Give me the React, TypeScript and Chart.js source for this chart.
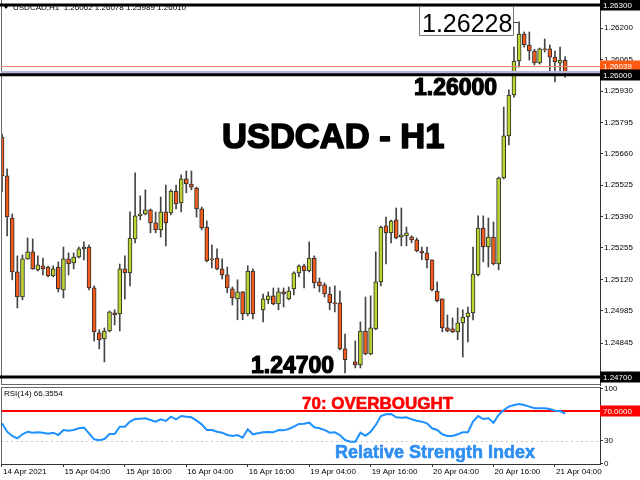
import React, { useEffect, useRef } from 'react';
import { Chart, registerables } from 'chart.js';

Chart.register(...registerables);

const FONT = '"Liberation Sans", Arial, sans-serif';

// ---- data ----
const SYMBOL_HEADER = 'USDCAD,H1  1.26062 1.26078 1.25989 1.26010';
const TIME_TICK_BARS = [0, 12, 24, 36, 48, 60, 72, 84, 96, 108];
const TIME_LABELS = ['14 Apr 2021', '15 Apr 04:00', '15 Apr 16:00', '16 Apr 04:00', '16 Apr 16:00', '19 Apr 04:00', '19 Apr 16:00', '20 Apr 04:00', '20 Apr 16:00', '21 Apr 04:00'];

const OPEN = [
  1.25732, 1.25565, 1.25384, 1.25152, 1.25044, 1.25208, 1.25238, 1.25161, 1.25178, 1.25173,
  1.25135, 1.25173, 1.25075, 1.25208, 1.25191, 1.25216, 1.25251, 1.25259, 1.25083, 1.24890,
  1.24864, 1.24898, 1.24976, 1.24971, 1.25165, 1.25148, 1.25294, 1.25393, 1.25401, 1.25419,
  1.25363, 1.25333, 1.25410, 1.25406, 1.25500, 1.25449, 1.25552, 1.25530, 1.25513, 1.25423,
  1.25345, 1.25208, 1.25212, 1.25165, 1.25139, 1.25079, 1.25036, 1.25066, 1.24971, 1.25156,
  null, 1.24989, 1.25032, 1.25049, 1.25014, 1.25066, 1.25036, 1.25079, 1.25148, 1.25178,
  1.25156, 1.25212, 1.25109, 1.25096, 1.25057, 1.25019, 1.25019, 1.24821, null, 1.24765,
  1.24752, 1.24898, 1.24799, 1.24907, 1.25109, 1.25350, 1.25320, 1.25376, 1.25302, 1.25307,
  1.25303, 1.25290, 1.25242, 1.25234, 1.25204, 1.25070, 1.25036, 1.24911, 1.24907, 1.24894,
  1.24933, 1.24958, 1.24976, 1.25139, 1.25341, 1.25259, 1.25302, 1.25186, 1.25556, 1.25737,
  1.25913, 1.26059, 1.26175, 1.26128, 1.26102, 1.26051, 1.26111, 1.26111, 1.26076, 1.26050,
  1.26062,
];
const HIGH = [
  1.25745, 1.25595, 1.25401, 1.25221, 1.25225, 1.25298, 1.25294, 1.25221, 1.25212, 1.25177,
  1.25178, 1.25195, 1.25259, 1.25234, 1.25234, 1.25259, 1.25281, 1.25268, 1.25092, 1.24903,
  1.24911, 1.24984, 1.24989, 1.25186, 1.25221, 1.25410, 1.25578, 1.25479, 1.25505, 1.25423,
  1.25410, 1.25474, 1.25526, 1.25505, 1.25526, 1.25569, 1.25586, 1.25586, 1.25517, 1.25431,
  1.25371, 1.25268, 1.25251, 1.25208, 1.25173, 1.25087, 1.25118, 1.25068, 1.25178, 1.25165,
  null, 1.25057, 1.25066, 1.25083, 1.25083, 1.25083, 1.25087, 1.25152, 1.25182, 1.25186,
  1.25281, 1.25221, 1.25126, 1.25105, 1.25087, 1.25092, 1.25070, 1.24885, null, 1.24855,
  1.24937, 1.25044, 1.25049, 1.25238, 1.25349, 1.25388, 1.25375, 1.25427, 1.25427, 1.25345,
  1.25307, 1.25298, 1.25259, 1.25259, 1.25204, 1.25109, 1.25036, 1.24967, 1.24954, 1.24997,
  1.24989, 1.25001, 1.25259, 1.25393, 1.25393, 1.25384, 1.25367, 1.25560, 1.25861, 1.25935,
  1.26119, 1.26228, 1.26184, 1.26184, 1.26110, 1.26115, 1.26154, 1.26128, 1.26102, 1.26119,
  1.26078,
];
const LOW = [
  1.25496, 1.25307, 1.25118, 1.24997, 1.25032, 1.25206, 1.25163, 1.25156, 1.25139, 1.25130,
  1.25131, 1.25066, 1.25040, 1.25139, 1.25165, 1.25212, 1.25204, 1.25075, 1.24855, 1.24821,
  1.24765, 1.24894, 1.24924, 1.24898, 1.25036, 1.25092, 1.25277, 1.25376, 1.25397, 1.25320,
  1.25320, 1.25302, 1.25264, 1.25397, 1.25423, 1.25410, 1.25492, 1.25505, 1.25388, 1.25333,
  1.25195, 1.25169, 1.25161, 1.25122, 1.25062, 1.25010, 1.24946, 1.24946, 1.24963, 1.24950,
  null, 1.24937, 1.25015, 1.25010, 1.24989, 1.25001, 1.25032, 1.25053, 1.25130, 1.25083,
  1.25152, 1.25083, 1.25066, 1.25044, 1.24989, 1.24980, 1.24817, 1.24718, null, 1.24739,
  1.24739, 1.24795, 1.24795, 1.24903, 1.25092, 1.25186, 1.25277, 1.25294, 1.25264, 1.25264,
  1.25277, 1.25238, 1.25204, 1.25169, 1.25070, 1.25023, 1.24894, 1.24894, 1.24890, 1.24860,
  1.24786, 1.24851, 1.24946, 1.25135, 1.25195, 1.25173, 1.25182, 1.25161, 1.25552, 1.25698,
  1.25904, 1.26033, 1.26119, 1.26063, 1.26042, 1.26046, 1.26098, 1.26012, 1.25969, 1.26012,
  1.25989,
];
const CLOSE = [
  1.25565, 1.25388, 1.25152, 1.25044, 1.25208, 1.25238, 1.25165, 1.25182, 1.25165, 1.25135,
  1.25165, 1.25079, 1.25208, 1.25186, 1.25216, 1.25251, 1.25259, 1.25083, 1.24894, 1.24860,
  1.24898, 1.24980, 1.24967, 1.25165, 1.25148, 1.25298, 1.25393, 1.25401, 1.25419, 1.25363,
  1.25333, 1.25410, 1.25363, 1.25500, 1.25444, 1.25552, 1.25530, 1.25517, 1.25423, 1.25341,
  1.25199, 1.25204, 1.25165, 1.25139, 1.25083, 1.25040, 1.25066, 1.24971, 1.25156, 1.24971,
  null, 1.25036, 1.25049, 1.25014, 1.25066, 1.25057, 1.25070, 1.25148, 1.25178, 1.25156,
  1.25212, 1.25105, 1.25092, 1.25057, 1.25019, 1.25015, 1.24821, 1.24774, null, 1.24752,
  1.24898, 1.24799, 1.24911, 1.25109, 1.25345, 1.25320, 1.25371, 1.25298, 1.25311, 1.25320,
  1.25290, 1.25242, 1.25234, 1.25204, 1.25075, 1.25027, 1.24911, 1.24898, 1.24894, 1.24933,
  1.24958, 1.24976, 1.25143, 1.25341, 1.25259, 1.25302, 1.25186, 1.25556, 1.25737, 1.25913,
  1.26059, 1.26175, 1.26128, 1.26102, 1.26051, 1.26111, 1.26107, 1.26076, 1.26055, 1.26063,
  1.26010,
];
const RSI = [
  53.6, 42.4, 36.7, 33.6, 38.9, 42.4, 41.1, 41.6, 41.1, 39.8,
  41.1, 38.0, 44.7, 43.8, 44.7, 46.9, 47.8, 40.2, 32.2, 30.9,
  32.7, 39.3, 39.3, 49.1, 49.1, 55.8, 59.3, 59.8, 60.2, 58.0,
  55.8, 58.9, 56.7, 62.4, 58.9, 63.3, 62.4, 61.6, 57.1, 52.2,
  44.7, 44.7, 42.4, 41.1, 38.0, 36.7, 38.0, 34.4, 45.6, 38.9,
  40.2, 41.6, 42.0, 41.6, 44.7, 44.2, 46.0, 49.1, 52.7, 53.1,
  54.4, 48.2, 46.9, 44.7, 41.1, 41.6, 38.0, 31.3, 29.1, 29.1,
  41.1, 37.1, 42.4, 51.3, 63.3, 65.6, 66.0, 61.6, 61.1, 61.6,
  58.9, 57.1, 55.8, 53.6, 46.9, 44.7, 38.9, 36.7, 36.7, 38.9,
  41.6, 41.6, 55.8, 63.3, 59.3, 60.2, 54.4, 64.7, 71.3, 75.8,
  78.0, 79.3, 78.0, 75.8, 73.6, 73.6, 73.6, 72.7, 70.4, 70.0,
  66.36,
];
const RSI_LAST = '66.3554';

const PRICE_TICKS = [1.262, 1.26065, 1.2593, 1.25795, 1.2566, 1.25525, 1.2539, 1.25255, 1.2512, 1.24985, 1.24845, 1.2471];
const LEVELS = [1.263, 1.26, 1.247];
const LEVEL_TEXT = ['', '1.26000', '1.24700'];
const BID_PRICE = 1.26039;
const LAST_PRICE = 1.2601;
const HIGH_MARK_INDEX = 101;
const RSI_TICKS = [0, 30, 70, 100];
const RSI_OVERBOUGHT = 70;
const RSI_OVERSOLD = 30;

// ---- layout constants ----
const X_MIN = -0.195;
const X_MAX = 116.8;
const Y_MIN = 1.2466559;
const Y_MAX = 1.2632151;
const RSI_MIN = -0.667;
const RSI_MAX = 102;

const BULL = '#bed431';
const BEAR = '#f25b1c';

function drawAxisBox(ctx: CanvasRenderingContext2D, y: number, text: string, bg: string) {
  ctx.fillStyle = bg;
  ctx.fillRect(600, Math.round(y) - 5.5, 40, 11);
  ctx.fillStyle = '#fff';
  ctx.font = `8px ${FONT}`;
  ctx.textAlign = 'left';
  ctx.textBaseline = 'middle';
  ctx.fillText(text, 603, Math.round(y) + 0.5);
}

function heavyText(ctx: CanvasRenderingContext2D, text: string, x: number, y: number, color: string, stroke: number) {
  ctx.fillStyle = color;
  ctx.strokeStyle = color;
  ctx.lineWidth = stroke;
  ctx.lineJoin = 'round';
  ctx.strokeText(text, x, y);
  ctx.fillText(text, x, y);
}

export default function App() {
  const mainRef = useRef<HTMLCanvasElement>(null);
  const rsiRef = useRef<HTMLCanvasElement>(null);

  useEffect(() => {
    const bodies: any[] = [];
    const wicks: any[] = [];
    const colors: string[] = [];
    OPEN.forEach((o, i) => {
      if (o == null) return;
      const c = CLOSE[i] as number;
      bodies.push({ x: i, y: [o, c] });
      wicks.push({ x: i, y: [LOW[i], HIGH[i]] });
      colors.push(c > o ? BULL : BEAR);
    });

    const mainDecor = {
      id: 'mainDecor',
      afterDraw(chart: any) {
        const { ctx, chartArea: a, scales } = chart;
        const ys = scales.y;
        const xs = scales.x;
        ctx.save();
        // frame
        ctx.fillStyle = '#666';
        ctx.fillRect(1, 0, 1, a.bottom);
        ctx.fillRect(1, a.bottom - 1, a.right - 1, 1);
        // last price / bid lines
        const yl = ys.getPixelForValue(LAST_PRICE);
        ctx.fillStyle = '#b8b8de';
        ctx.fillRect(a.left, yl - 1.5, a.right - a.left, 3);
        const yb = ys.getPixelForValue(BID_PRICE);
        ctx.fillStyle = '#f08868';
        ctx.fillRect(a.left, Math.round(yb), a.right - a.left, 1);
        // levels
        ctx.fillStyle = '#000';
        LEVELS.forEach((lv) => {
          const p = ys.getPixelForValue(lv);
          ctx.fillRect(0, p - 1.5, a.right, 3);
        });
        // axis boxes
        drawAxisBox(ctx, yb, BID_PRICE.toFixed(5), '#ff5a14');
        LEVELS.forEach((lv) => drawAxisBox(ctx, ys.getPixelForValue(lv), lv.toFixed(5), '#000'));
        // header
        ctx.fillStyle = '#000';
        ctx.beginPath();
        ctx.moveTo(3, 5);
        ctx.lineTo(9, 5);
        ctx.lineTo(6, 9);
        ctx.closePath();
        ctx.fill();
        ctx.font = `8px ${FONT}`;
        ctx.textAlign = 'left';
        ctx.textBaseline = 'middle';
        ctx.fillText(SYMBOL_HEADER, 13, 8);
        // title
        ctx.font = `bold 34.5px ${FONT}`;
        ctx.textBaseline = 'alphabetic';
        heavyText(ctx, 'USDCAD - H1', 222, 148, '#000', 1.6);
        // level labels
        ctx.font = `bold 23px ${FONT}`;
        heavyText(ctx, LEVEL_TEXT[1], 414, 95, '#000', 1.2);
        heavyText(ctx, LEVEL_TEXT[2], 251, 373, '#000', 1.2);
        // high marker
        const hy = ys.getPixelForValue(HIGH[HIGH_MARK_INDEX]);
        const hx = xs.getPixelForValue(HIGH_MARK_INDEX);
        ctx.fillStyle = '#fff';
        ctx.fillRect(419.5, 6.5, 94, 29);
        ctx.strokeStyle = '#777';
        ctx.lineWidth = 1;
        ctx.strokeRect(419.5, 6.5, 94, 29);
        ctx.beginPath();
        ctx.moveTo(513.5, Math.round(hy) + 0.5);
        ctx.lineTo(hx - 1, Math.round(hy) + 0.5);
        ctx.strokeStyle = '#444';
        ctx.stroke();
        ctx.fillStyle = '#000';
        ctx.font = `25px ${FONT}`;
        ctx.fillText((HIGH[HIGH_MARK_INDEX] as number).toFixed(5), 422, 32);
        ctx.restore();
      },
    };

    const main = new Chart(mainRef.current as HTMLCanvasElement, {
      type: 'bar',
      data: {
        datasets: [
          {
            data: bodies,
            backgroundColor: colors,
            borderColor: '#2c2c2c',
            borderWidth: 1,
            borderSkipped: false,
            barThickness: 4,
            grouped: false,
            minBarLength: 1,
            order: 0,
          } as any,
          {
            data: wicks,
            backgroundColor: '#444',
            borderWidth: 0,
            barThickness: 1,
            grouped: false,
            order: 1,
          } as any,
        ],
      },
      options: {
        animation: false,
        responsive: false,
        devicePixelRatio: 1,
        layout: { padding: { left: 1, top: 0, right: 0, bottom: 1 } },
        plugins: { legend: { display: false }, tooltip: { enabled: false } },
        scales: {
          x: { type: 'linear', min: X_MIN, max: X_MAX, display: false, offset: false, grid: { offset: false } },
          y: {
            type: 'linear',
            position: 'right',
            min: Y_MIN,
            max: Y_MAX,
            beginAtZero: false,
            afterBuildTicks: (s: any) => {
              s.ticks = PRICE_TICKS.map((v) => ({ value: v }));
            },
            afterFit: (s: any) => {
              s.width = 40;
              s.paddingTop = 0;
              s.paddingBottom = 0;
            },
            ticks: {
              autoSkip: false,
              padding: 1,
              color: '#000',
              font: { family: FONT, size: 8 },
              callback: (v: any) => Number(v).toFixed(5),
            },
            grid: { drawOnChartArea: false, tickLength: 3, color: '#333' },
            border: { color: '#333' },
          },
        },
      } as any,
      plugins: [mainDecor],
    });

    const rsiDecor = {
      id: 'rsiDecor',
      beforeDatasetsDraw(chart: any) {
        const { ctx, chartArea: a, scales } = chart;
        const ys = scales.y;
        ctx.save();
        const y30 = Math.round(ys.getPixelForValue(RSI_OVERSOLD)) + 0.5;
        ctx.strokeStyle = '#c4c4c4';
        ctx.lineWidth = 1;
        ctx.setLineDash([2, 3]);
        ctx.beginPath();
        ctx.moveTo(a.left, y30);
        ctx.lineTo(a.right, y30);
        ctx.stroke();
        ctx.setLineDash([]);
        const y70 = ys.getPixelForValue(RSI_OVERBOUGHT);
        ctx.fillStyle = '#ff0000';
        ctx.fillRect(a.left, y70 - 1, a.right - a.left, 2);
        ctx.restore();
      },
      afterDraw(chart: any) {
        const { ctx, chartArea: a, scales } = chart;
        const ys = scales.y;
        ctx.save();
        ctx.fillStyle = '#666';
        ctx.fillRect(1, a.top, a.right - 1, 1);
        ctx.fillRect(1, a.top, 1, a.bottom - a.top);
        drawAxisBox(ctx, ys.getPixelForValue(RSI_OVERBOUGHT), RSI_OVERBOUGHT.toFixed(4), '#ff0000');
        ctx.fillStyle = '#000';
        ctx.font = `8px ${FONT}`;
        ctx.textAlign = 'left';
        ctx.textBaseline = 'middle';
        ctx.fillText(`RSI(14) ${RSI_LAST}`, 4, 14);
        ctx.textBaseline = 'alphabetic';
        ctx.font = `bold 17px ${FONT}`;
        heavyText(ctx, '70: OVERBOUGHT', 302, 29, '#ff0000', 0.6);
        ctx.font = `bold 18px ${FONT}`;
        heavyText(ctx, 'Relative Strength Index', 335, 78, '#2f8ff0', 0.6);
        ctx.restore();
      },
    };

    const rsi = new Chart(rsiRef.current as HTMLCanvasElement, {
      type: 'line',
      data: {
        datasets: [
          {
            data: RSI.map((v, i) => ({ x: i, y: v })),
            borderColor: '#1e90ff',
            borderWidth: 2,
            pointRadius: 0,
            tension: 0,
            fill: false,
          },
        ],
      },
      options: {
        animation: false,
        responsive: false,
        devicePixelRatio: 1,
        layout: { padding: { left: 1, top: 7, right: 0, bottom: 0 } },
        plugins: { legend: { display: false }, tooltip: { enabled: false } },
        scales: {
          x: {
            type: 'linear',
            min: X_MIN,
            max: X_MAX,
            offset: false,
            afterBuildTicks: (s: any) => {
              s.ticks = TIME_TICK_BARS.map((v) => ({ value: v }));
            },
            afterFit: (s: any) => {
              s.height = 16;
              s.paddingLeft = 0;
              s.paddingRight = 0;
            },
            ticks: {
              autoSkip: false,
              maxRotation: 0,
              minRotation: 0,
              align: 'start',
              padding: 0,
              labelOffset: 1,
              color: '#000',
              font: { family: FONT, size: 8 },
              callback: (v: any) => TIME_LABELS[TIME_TICK_BARS.indexOf(Number(v))],
            },
            grid: { drawOnChartArea: false, tickLength: 3, color: '#333', offset: false },
            border: { color: '#333' },
          },
          y: {
            type: 'linear',
            position: 'right',
            min: RSI_MIN,
            max: RSI_MAX,
            afterBuildTicks: (s: any) => {
              s.ticks = RSI_TICKS.map((v) => ({ value: v }));
            },
            afterFit: (s: any) => {
              s.width = 40;
              s.paddingTop = 0;
              s.paddingBottom = 0;
            },
            ticks: {
              autoSkip: false,
              padding: 1,
              color: '#000',
              font: { family: FONT, size: 8 },
              callback: (v: any) => String(v),
            },
            grid: { drawOnChartArea: false, tickLength: 3, color: '#333' },
            border: { color: '#333' },
          },
        },
      } as any,
      plugins: [rsiDecor],
    });

    return () => {
      main.destroy();
      rsi.destroy();
    };
  }, []);

  return (
    <div style={{ position: 'fixed', left: 0, top: 0, width: 640, height: 480, background: '#fff', overflow: 'hidden' }}>
      <canvas ref={mainRef} width={640} height={386} style={{ position: 'absolute', left: 0, top: 0, width: 640, height: 386 }} />
      <canvas ref={rsiRef} width={640} height={100} style={{ position: 'absolute', left: 0, top: 380, width: 640, height: 100 }} />
    </div>
  );
}
